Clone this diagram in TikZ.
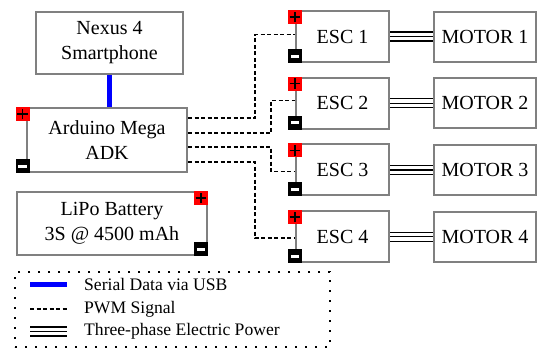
\documentclass[tikz,border=0pt]{standalone}
\usepackage{fontspec}
\setmainfont{Liberation Serif}
\usetikzlibrary{calc}
\definecolor{boxgray}{RGB}{128,128,128}
\definecolor{usbblue}{RGB}{0,0,255}
\begin{document}
\begin{tikzpicture}[x=1pt,y=-1pt,
  box/.style={draw=boxgray, line width=2pt, rectangle, inner sep=0pt, align=center,
    font=\fontsize{20}{25}\selectfont, fill=white},
  sq/.style={rectangle, minimum size=14pt, inner sep=0pt, outer sep=0pt},
  posterm/.style={sq, fill=red, path picture={
    \draw[line width=1.5pt] ([xshift=-5.3pt]path picture bounding box.center) -- ([xshift=5.3pt]path picture bounding box.center);
    \draw[line width=1.5pt] ([yshift=-5.3pt]path picture bounding box.center) -- ([yshift=5.3pt]path picture bounding box.center);}},
  negterm/.style={sq, fill=black, path picture={
    \fill[white] ([xshift=-4.2pt,yshift=-1.5pt]path picture bounding box.center) rectangle ([xshift=4.2pt,yshift=1.5pt]path picture bounding box.center);}},
  usb/.style={draw=usbblue, line width=5.5pt},
  pwm/.style={draw=black, line width=1.3pt, dash pattern=on 4pt off 2.5pt},
  phase/.style={draw=black, line width=1.2pt},
  legendframe/.style={draw=black, line width=2pt, dash pattern=on 2pt off 8pt, rectangle, inner sep=0pt},
  legtext/.style={font=\fontsize{17.6}{21}\selectfont, inner sep=0pt, anchor=west},
]
\useasboundingbox (0,0) rectangle (539,348);

% main boxes
\node[box, minimum width=147pt, minimum height=62pt] (nexus) at (109.5,43) {Nexus 4\\Smartphone};
\node[box, minimum width=160pt, minimum height=64pt] (ard) at (107,140) {Arduino Mega\\ADK};
\node[box, minimum width=190pt, minimum height=63pt] (lipo) at (112,223.5) {LiPo Battery\\3S @ 4500 mAh};

\foreach \i/\y in {1/36.5,2/103.2,3/169.9,4/236.6}{
  \node[box, minimum width=93pt, minimum height=51pt] (esc\i) at (342.5,\y) {ESC \i};
  \node[box, minimum width=102pt, minimum height=50pt] (mot\i) at (485,\y) {MOTOR \i};
  \draw[phase] ([yshift=4.5pt]esc\i.east) -- ([yshift=4.5pt]mot\i.west);
  \draw[phase] (esc\i.east) -- (mot\i.west);
  \draw[phase] ([yshift=-4.5pt]esc\i.east) -- ([yshift=-4.5pt]mot\i.west);
}

% USB link
\draw[usb] (nexus.south) -- (nexus.south |- ard.north);

% PWM links
\draw[pwm] ([yshift=22pt]ard.east) -| ([xshift=-40pt,yshift=2pt]esc1.west) -- ([yshift=2pt]esc1.west);
\draw[pwm] ([yshift=7pt]ard.east) -| ([xshift=-24pt,yshift=3pt]esc2.west) -- ([yshift=3pt]esc2.west);
\draw[pwm] ([yshift=-7pt]ard.east) -| ([xshift=-24pt,yshift=-1.5pt]esc3.west) -- ([yshift=-1.5pt]esc3.west);
\draw[pwm] ([yshift=-22pt]ard.east) -| ([xshift=-40pt,yshift=-1.5pt]esc4.west) -- ([yshift=-1.5pt]esc4.west);

% terminals
\foreach \i in {1,2,3,4}{
  \node[posterm, anchor=north] (esc\i p) at (esc\i.north west) {};
  \node[negterm, anchor=south] (esc\i m) at (esc\i.south west) {};
}
\node[posterm, anchor=north, xshift=-3.5pt] (ardp) at (ard.north west) {};
\node[negterm, anchor=south, xshift=-3.5pt] (ardm) at (ard.south west) {};
\node[posterm, anchor=north east] (lipop) at (lipo.north east) {};
\node[negterm, anchor=south east] (lipom) at (lipo.south east) {};

% legend
\node[legendframe, minimum width=315pt, minimum height=75pt] (legend) at (172.5,309.5) {};
\coordinate (l1a) at (30,284); \coordinate (l1b) at (67,284);
\coordinate (l2a) at (30,309); \coordinate (l2b) at (67,309);
\coordinate (l3a) at (30,331.5); \coordinate (l3b) at (67,331.5);
\draw[usb, line width=5pt] (l1a) -- (l1b);
\draw[pwm] (l2a) -- (l2b);
\draw[phase] ([yshift=4.5pt]l3a) -- ([yshift=4.5pt]l3b);
\draw[phase] (l3a) -- (l3b);
\draw[phase] ([yshift=-4.5pt]l3a) -- ([yshift=-4.5pt]l3b);
\node[legtext] (t1) at (84,284) {Serial Data via USB};
\node[legtext] (t2) at (84,309) {PWM Signal};
\node[legtext] (t3) at (84,331.5) {Three-phase Electric Power};
\end{tikzpicture}
\end{document}
